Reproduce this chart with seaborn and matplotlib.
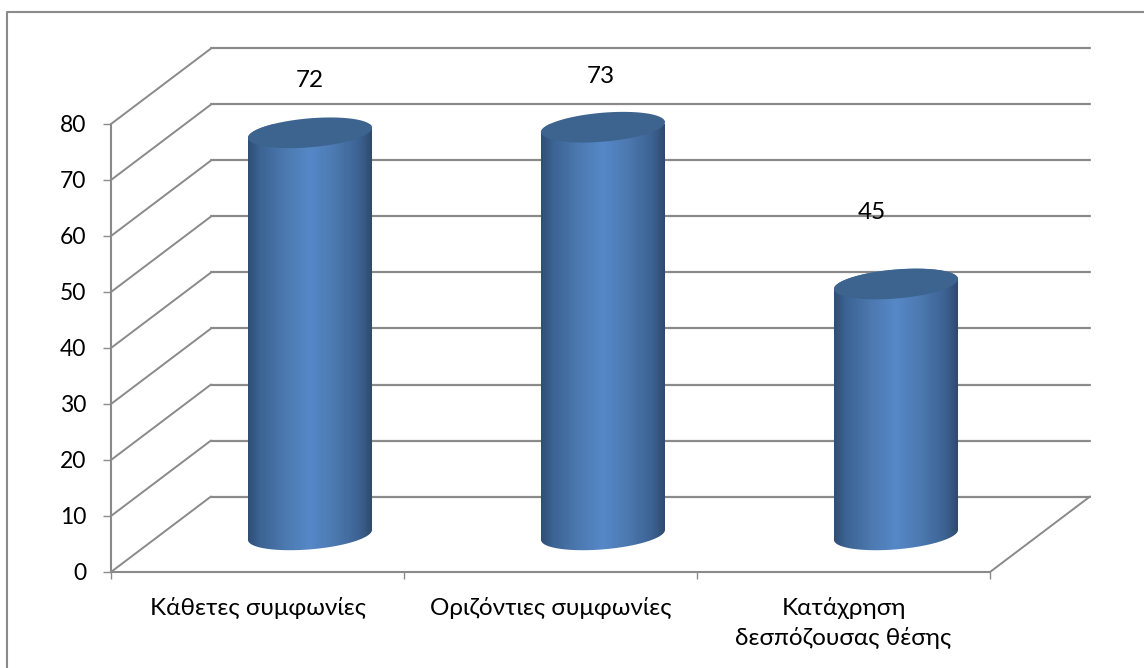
"""3D-look cylinder chart of competition cases by type."""
import matplotlib.pyplot as plt
import numpy as np
import pandas as pd
import seaborn as sns
from matplotlib.colors import LinearSegmentedColormap
from matplotlib.lines import Line2D
from matplotlib.patches import Polygon

categories = ['Κάθετες συμφωνίες', 'Οριζόντιες συμφωνίες',
              'Κατάχρηση\nδεσπόζουσας θέσης']
values = [72, 73, 45]
y_ticks = [0, 10, 20, 30, 40, 50, 60, 70, 80]

W, H = 1144, 668
LINE = '#8a8a8a'
TOP_FACE = '#3d638f'
PX_X = 293.0   # pixels per category
PX_Y = 5.6     # pixels per y unit

sns.set_style('white')
plt.rcParams['font.family'] = ['Lato', 'Noto Sans', 'DejaVu Sans']

fig = plt.figure(figsize=(W / 100, H / 100), dpi=100)
ax = fig.add_axes([111 / W, (H - 572) / H, 879 / W, 448 / H])

df = pd.DataFrame({'category': categories, 'value': values})
sns.barplot(data=df, x='category', y='value', width=124 / PX_X,
            color='#4f81bd', ax=ax, zorder=3)
ax.set_xlim(-0.5, 2.5)
ax.set_ylim(0, 80)

# depth of the floor and where the cylinders stand on it
depth_x, depth_y = 100 / PX_X, 75.5 / PX_Y
shift_x, shift_y = 52.5 / PX_X, 36 / PX_Y

# back wall and side wall lines
for v in y_ticks:
    ax.plot([-0.5 + depth_x, 2.5 + depth_x], [v + depth_y, v + depth_y],
            color=LINE, lw=1.6, clip_on=False, zorder=1)
    ax.plot([-0.5, -0.5 + depth_x], [v, v + depth_y],
            color=LINE, lw=1.4, clip_on=False, zorder=1)
ax.plot([2.5, 2.5 + depth_x], [0, depth_y], color=LINE, lw=1.4,
        clip_on=False, zorder=1)

shade = LinearSegmentedColormap.from_list('cyl', [
    (0.0, '#2f4e76'), (0.1, '#3c6494'), (0.3, '#4c79b0'), (0.5, '#5688c8'),
    (0.7, '#4c79b0'), (0.9, '#3c6292'), (1.0, '#2f4a6e')])
gradient = np.linspace(0, 1, 256).reshape(1, -1)
t = np.linspace(0, 2 * np.pi, 121)
half_w = 62 / PX_X

label_offsets = [(0, 52), (-2, 51), (-24, 71)]

for bar, value, offset in zip(ax.patches, values, label_offsets):
    cx = bar.get_x() + bar.get_width() / 2 + shift_x
    base, top = shift_y + 0.2, value + shift_y
    ex = cx + half_w * np.cos(t)
    ey = (5 * np.cos(t) + 14.5 * np.sin(t)) / PX_Y
    lower = (t >= np.pi)
    upper = (t <= np.pi)
    body_xy = np.vstack([
        np.column_stack([ex[lower], base + ey[lower]]),
        np.column_stack([ex[upper], top + ey[upper]])])
    body = Polygon(body_xy, transform=ax.transData, fc='none', ec='none')
    ax.add_patch(body)
    bar.set_visible(False)
    img = ax.imshow(gradient, cmap=shade, aspect='auto', zorder=3,
                    extent=(cx - half_w, cx + half_w, 0, top + 3))
    img.set_clip_path(body)
    ax.add_patch(Polygon(np.column_stack([ex, top + ey]), fc=TOP_FACE,
                         ec='none', zorder=4, clip_on=False))
    ax.annotate(str(value), xy=(cx, top), xytext=offset,
                textcoords='offset pixels', ha='center', va='center',
                fontsize=17.5, color='black', annotation_clip=False)

ax.set_xlim(-0.5, 2.5)
ax.set_ylim(0, 80)
ax.set_xlabel('')
ax.set_ylabel('')

# ticks sit between the categories, labels in the middle
ax.set_xticks([-0.5, 0.5, 1.5, 2.5], labels=[])
ax.set_xticks([0, 1, 2], labels=categories, minor=True)
ax.set_yticks(y_ticks)
ax.tick_params(axis='x', which='major', length=5, width=1, color=LINE,
               bottom=True)
ax.tick_params(axis='x', which='minor', length=0, pad=18, labelsize=17.5,
               labelcolor='black', bottom=False)
ax.tick_params(axis='y', length=5.8, width=1, color=LINE, left=True, pad=12,
               labelsize=16.5, labelcolor='black')
for label in ax.get_xticklabels(minor=True):
    label.set_linespacing(1.45)

sns.despine(ax=ax)
for s in ['left', 'bottom']:
    ax.spines[s].set_linewidth(1.5)
    ax.spines[s].set_color(LINE)

# chart area border, only its top and left edges fall inside the picture
fig.add_artist(Line2D([7 / W, 7 / W, 1], [0, (H - 12) / H, (H - 12) / H],
                      color=LINE, lw=1.5))

plt.savefig('out.png', dpi=100)
plt.close()
